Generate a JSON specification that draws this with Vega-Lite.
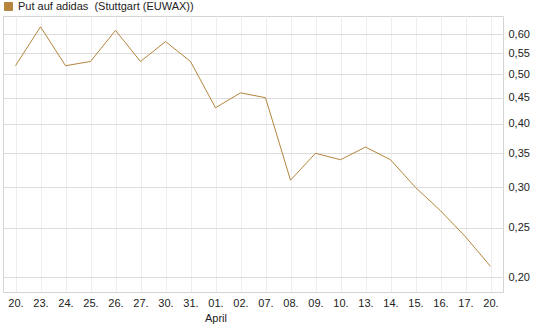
{
  "$schema": "https://vega.github.io/schema/vega-lite/v6.json",
  "width": 500,
  "height": 276,
  "autosize": {"type": "none"},
  "padding": {"left": 3, "top": 16, "right": 42, "bottom": 35},
  "background": "#ffffff",
  "config": {
    "font": "Liberation Sans",
    "view": {"stroke": "#d4d4d4", "strokeWidth": 1},
    "axis": {"labelFont": "Liberation Sans", "labelFontSize": 11, "labelColor": "#222222"},
    "legend": {"labelFont": "Liberation Sans", "labelFontSize": 11, "labelColor": "#222222", "labelLimit": 400}
  },
  "data": {
    "values": [
      {"date": "2015-03-20", "value": 0.52, "series": "Put auf adidas\u00a0 (Stuttgart (EUWAX))"},
      {"date": "2015-03-23", "value": 0.62, "series": "Put auf adidas\u00a0 (Stuttgart (EUWAX))"},
      {"date": "2015-03-24", "value": 0.52, "series": "Put auf adidas\u00a0 (Stuttgart (EUWAX))"},
      {"date": "2015-03-25", "value": 0.53, "series": "Put auf adidas\u00a0 (Stuttgart (EUWAX))"},
      {"date": "2015-03-26", "value": 0.61, "series": "Put auf adidas\u00a0 (Stuttgart (EUWAX))"},
      {"date": "2015-03-27", "value": 0.53, "series": "Put auf adidas\u00a0 (Stuttgart (EUWAX))"},
      {"date": "2015-03-30", "value": 0.58, "series": "Put auf adidas\u00a0 (Stuttgart (EUWAX))"},
      {"date": "2015-03-31", "value": 0.53, "series": "Put auf adidas\u00a0 (Stuttgart (EUWAX))"},
      {"date": "2015-04-01", "value": 0.43, "series": "Put auf adidas\u00a0 (Stuttgart (EUWAX))"},
      {"date": "2015-04-02", "value": 0.46, "series": "Put auf adidas\u00a0 (Stuttgart (EUWAX))"},
      {"date": "2015-04-07", "value": 0.45, "series": "Put auf adidas\u00a0 (Stuttgart (EUWAX))"},
      {"date": "2015-04-08", "value": 0.31, "series": "Put auf adidas\u00a0 (Stuttgart (EUWAX))"},
      {"date": "2015-04-09", "value": 0.35, "series": "Put auf adidas\u00a0 (Stuttgart (EUWAX))"},
      {"date": "2015-04-10", "value": 0.34, "series": "Put auf adidas\u00a0 (Stuttgart (EUWAX))"},
      {"date": "2015-04-13", "value": 0.36, "series": "Put auf adidas\u00a0 (Stuttgart (EUWAX))"},
      {"date": "2015-04-14", "value": 0.34, "series": "Put auf adidas\u00a0 (Stuttgart (EUWAX))"},
      {"date": "2015-04-15", "value": 0.30, "series": "Put auf adidas\u00a0 (Stuttgart (EUWAX))"},
      {"date": "2015-04-16", "value": 0.27, "series": "Put auf adidas\u00a0 (Stuttgart (EUWAX))"},
      {"date": "2015-04-17", "value": 0.24, "series": "Put auf adidas\u00a0 (Stuttgart (EUWAX))"},
      {"date": "2015-04-20", "value": 0.21, "series": "Put auf adidas\u00a0 (Stuttgart (EUWAX))"}
    ]
  },
  "mark": {"type": "line", "strokeWidth": 1, "interpolate": "linear"},
  "encoding": {
    "x": {
      "field": "date",
      "type": "ordinal",
      "sort": null,
      "scale": {"type": "point", "padding": 0.5},
      "axis": {
        "title": null,
        "domain": false,
        "ticks": false,
        "labelAngle": 0,
        "labelPadding": 5,
        "labelLineHeight": 15,
        "grid": true,
        "gridColor": "#eeeeee",
        "gridWidth": 1,
        "labelExpr": "substring(datum.value, 8, 10) == '01' ? ['01.', 'April'] : substring(datum.value, 8, 10) + '.'"
      }
    },
    "y": {
      "field": "value",
      "type": "quantitative",
      "scale": {"type": "log", "domain": [0.187, 0.651], "nice": false, "zero": false},
      "axis": {
        "orient": "right",
        "title": null,
        "domain": false,
        "ticks": false,
        "labelPadding": 5,
        "values": [0.2, 0.25, 0.3, 0.35, 0.4, 0.45, 0.5, 0.55, 0.6],
        "labelExpr": "replace(format(datum.value, '.2f'), '.', ',')",
        "gridColor": "#dddddd",
        "gridWidth": 1
      }
    },
    "color": {
      "field": "series",
      "type": "nominal",
      "scale": {"range": ["#b5853d"]},
      "legend": {
        "title": null,
        "orient": "none",
        "legendX": 0,
        "legendY": -15,
        "padding": 0,
        "labelLimit": 400,
        "symbolType": "square",
        "symbolSize": 64,
        "symbolFillColor": "#b5853d",
        "symbolStrokeColor": "#4a3a22",
        "symbolStrokeWidth": 1,
        "symbolOpacity": 1,
        "labelOffset": 4
      }
    }
  }
}
